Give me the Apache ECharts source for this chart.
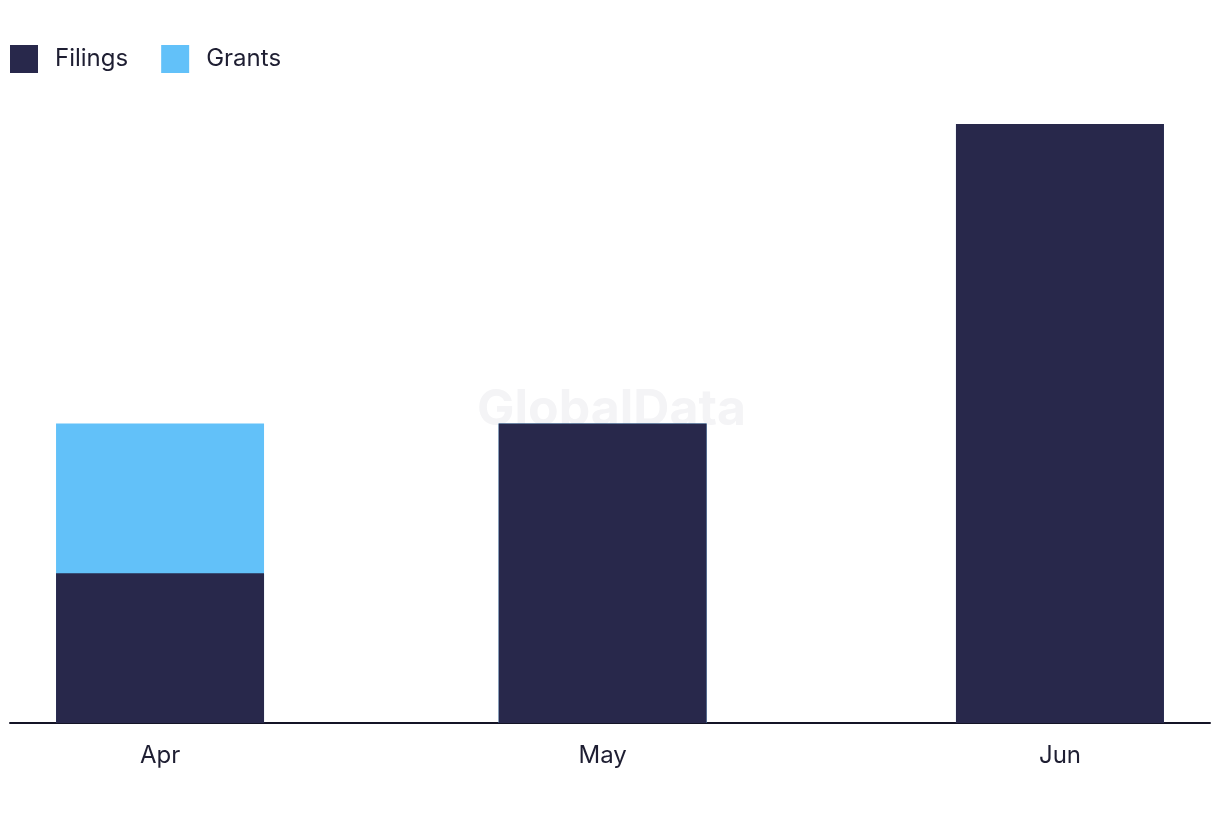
<!DOCTYPE html>
<html>
<head>
<meta charset="utf-8">
<script src="https://cdn.jsdelivr.net/npm/echarts@6/dist/echarts.min.js"></script>
<style>
html,body{margin:0;padding:0;background:#fff;}
#chart{width:1220px;height:822px;}
</style>
</head>
<body>
<div id="chart"></div>
<script>
// Data
const months = ['2024-04-01', '2024-05-01', '2024-06-01'];
const monthLabels = ['Apr', 'May', 'Jun'];
const filings = [1, 2, 4];
const grants = [1, 0, 0];

const DAY = 86400000;
const t0 = Date.parse(months[0] + 'T00:00:00Z');
const days = months.map(m => Math.round((Date.parse(m + 'T00:00:00Z') - t0) / DAY));
const pad = 10.17;
// stacked totals (grants sit on top of filings)
const totals = filings.map((f, i) => f + grants[i]);

const chart = echarts.init(document.getElementById('chart'));
const font = 'Inter, "Noto Sans", sans-serif';
chart.setOption({
  animation: false,
  backgroundColor: '#ffffff',
  graphic: [{
    type: 'text',
    left: 477,
    top: 385,
    z: 0,
    silent: true,
    style: {
      text: 'GlobalData',
      fontFamily: font,
      fontWeight: 'bold',
      fontSize: 50,
      fill: '#f4f4f6'
    }
  }],
  legend: {
    left: 10,
    top: 45,
    padding: 0,
    itemWidth: 28,
    itemHeight: 28,
    itemGap: 33,
    icon: 'rect',
    textStyle: {
      fontFamily: font,
      fontSize: 24,
      color: '#1e1e32',
      padding: [0, 0, 0, 12]
    },
    data: ['Filings', 'Grants']
  },
  grid: { left: 10, right: 10, top: 124, bottom: 99, containLabel: false },
  xAxis: {
    type: 'value',
    min: days[0] - pad,
    max: days[2] + pad,
    axisLine: { show: true, onZero: false, lineStyle: { color: '#141426', width: 2 } },
    axisTick: { show: false },
    splitLine: { show: false },
    axisLabel: {
      customValues: days,
      margin: 21,
      fontFamily: font,
      fontSize: 24,
      color: '#1e1e32',
      formatter: function (v) {
        const i = days.indexOf(Math.round(v));
        return i >= 0 ? monthLabels[i] : '';
      }
    }
  },
  yAxis: {
    type: 'value',
    min: 0,
    max: 4,
    show: false
  },
  series: [
    {
      name: 'Grants',
      type: 'bar',
      barWidth: 208,
      barGap: '-100%',
      z: 2,
      itemStyle: { color: '#62c1f9' },
      data: days.map((d, i) => [d, totals[i]])
    },
    {
      name: 'Filings',
      type: 'bar',
      barWidth: 208,
      barGap: '-100%',
      z: 3,
      itemStyle: { color: '#28284b' },
      data: days.map((d, i) => [d, filings[i]])
    }
  ]
});
</script>
</body>
</html>
